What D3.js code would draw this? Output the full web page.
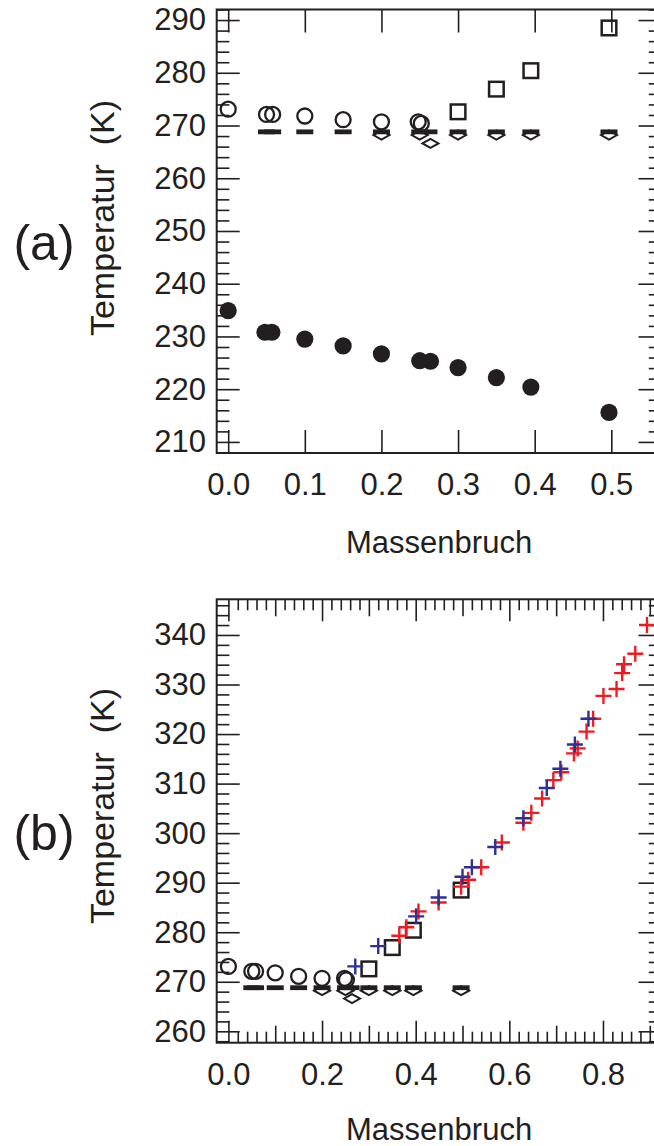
<!DOCTYPE html>
<html>
<head>
<meta charset="utf-8">
<script src="https://cdn.jsdelivr.net/npm/d3@7"></script>
<style>
  body { margin: 0; background: #fff; }
  svg { display: block; }
</style>
</head>
<body>
<svg id="chart"></svg>
<script>
// ---- data (mass fraction, temperature in K) ----
const openCircleX = [0.0, 0.05, 0.058, 0.1, 0.15, 0.2, 0.248, 0.252];
const openCircleT = [273.1, 272.1, 272.1, 271.8, 271.1, 270.7, 270.7, 270.4];

const squareX = [0.3, 0.35, 0.395, 0.497];
const squareT = [272.6, 276.9, 280.4, 288.5];

const dashX = [0.05, 0.058, 0.1, 0.15, 0.2, 0.25, 0.262, 0.3, 0.35, 0.395, 0.497];
const dashT = [268.8, 268.8, 268.8, 268.8, 268.8, 268.8, 268.8, 268.8, 268.8, 268.8, 268.8];

const diamondX = [0.2, 0.25, 0.264, 0.3, 0.35, 0.395, 0.497];
const diamondT = [268.2, 268.2, 266.6, 268.2, 268.2, 268.2, 268.2];

const filledX = [0.0, 0.048, 0.057, 0.1, 0.15, 0.2, 0.25, 0.264, 0.3, 0.35, 0.395, 0.497];
const filledT = [234.9, 230.8, 230.8, 229.5, 228.2, 226.7, 225.4, 225.3, 224.1, 222.2, 220.4, 215.6];

const blueX = [0.271, 0.320, 0.401, 0.449, 0.500, 0.520, 0.570, 0.630, 0.680, 0.709, 0.740, 0.769];
const blueT = [273.1, 277.2, 283.2, 287.0, 291.2, 293.1, 297.2, 303.0, 309.1, 313.0, 317.9, 323.1];

const redX = [0.365, 0.380, 0.406, 0.449, 0.497, 0.512, 0.540, 0.584, 0.630, 0.647, 0.670, 0.694,
              0.711, 0.738, 0.746, 0.765, 0.779, 0.801, 0.829, 0.841, 0.845, 0.869, 0.894];
const redT = [279.3, 281.0, 284.2, 286.0, 289.2, 290.6, 293.1, 298.1, 302.1, 304.1, 307.0, 310.7,
              312.3, 316.1, 317.1, 320.5, 323.1, 327.7, 329.1, 332.3, 334.1, 336.2, 342.0];

// tick labels
const topXTicks = [0.0, 0.1, 0.2, 0.3, 0.4, 0.5];
const topYTicks = [210, 220, 230, 240, 250, 260, 270, 280, 290];
const botXTicks = [0.0, 0.2, 0.4, 0.6, 0.8];
const botXMid = [0.1, 0.3, 0.5, 0.7, 0.9];
const botYTicks = [260, 270, 280, 290, 300, 310, 320, 330, 340];

const FONT = '"Liberation Sans", Arial, Helvetica, sans-serif';
const ink = '#231f20';
const red = '#ed1c24';
const blue = '#2e3192';

const svg = d3.select('#chart').attr('width', 654).attr('height', 1146);

function zip(xs, ys) { return xs.map((v, i) => [v, ys[i]]); }

function tickSet(g, axisGen, scale, tx, ty, values, len, pad, fmt) {
    let ax = axisGen(scale).tickValues(values).tickSize(-len).tickPadding(pad)
        .tickFormat(fmt ? fmt : () => '');
    g.append('g')
        .attr('transform', 'translate(' + tx + ',' + ty + ')')
        .call(ax)
        .call(s => s.select('.domain').remove())
        .call(s => s.selectAll('line').attr('stroke', ink).attr('stroke-width', 1.6))
        .call(s => s.selectAll('text')
            .attr('font-family', FONT).attr('font-size', 31).attr('fill', ink));
}

function drawPanel(p){
    const left = 216.7, right = 661.5;
    const x = d3.scaleLinear().domain(p.xDomain).range([left, right]);
    const y = d3.scaleLinear().domain(p.yDomain).range([p.bottom, p.top]);
    const g = svg.append('g');

    // x ticks (inward, top and bottom)
    p.xTickSets.forEach(t => {
        tickSet(g, d3.axisBottom, x, 0, p.bottom, t.values, t.len, 20, t.labels ? d3.format('.1f') : null);
        tickSet(g, d3.axisTop, x, 0, p.top, t.values, t.len, 0, null);
    });
    // y ticks (inward, left and right)
    let minorY = d3.range(p.yDomain[0], p.yDomain[1], 2).map(v => Math.ceil(v / 2) * 2)
        .filter(v => v % 10 !== 0);
    tickSet(g, d3.axisLeft, y, left, 0, p.yTicks, 23, 10.7, d3.format('d'));
    tickSet(g, d3.axisLeft, y, left, 0, minorY, 12.7, 0, null);
    tickSet(g, d3.axisRight, y, right, 0, p.yTicks, 23, 0, null);
    tickSet(g, d3.axisRight, y, right, 0, minorY, 12.7, 0, null);

    // frame
    g.append('rect')
        .attr('x', left).attr('y', p.top)
        .attr('width', right - left).attr('height', p.bottom - p.top)
        .attr('fill', 'none').attr('stroke', ink).attr('stroke-width', 2);

    // diamonds (under the dashes)
    g.append('g').selectAll('path').data(zip(diamondX, diamondT)).enter()
        .append('path')
        .attr('d', d => {
            let cx = x(d[0]), cy = y(d[1]);
            return 'M' + (cx - 8) + ',' + cy + 'L' + cx + ',' + (cy - 4.5) + 'L' + (cx + 8) + ',' + cy +
                'L' + cx + ',' + (cy + 4.5) + 'Z';
        })
        .attr('fill', '#fff').attr('stroke', ink).attr('stroke-width', 2);

    // dashes
    g.append('g').selectAll('rect').data(zip(dashX, dashT)).enter()
        .append('rect')
        .attr('x', d => x(d[0]) - 8.5).attr('y', d => y(d[1]) - 2.4)
        .attr('width', 17).attr('height', 4.8)
        .attr('fill', ink);

    // open circles
    g.append('g').selectAll('circle').data(zip(openCircleX, openCircleT)).enter()
        .append('circle')
        .attr('cx', d => x(d[0])).attr('cy', d => y(d[1])).attr('r', 7.5)
        .attr('fill', 'none').attr('stroke', ink).attr('stroke-width', 2.3);

    // squares
    g.append('g').selectAll('rect').data(zip(squareX, squareT)).enter()
        .append('rect')
        .attr('x', d => x(d[0]) - 7.3).attr('y', d => y(d[1]) - 7.3)
        .attr('width', 14.6).attr('height', 14.6)
        .attr('fill', 'none').attr('stroke', ink).attr('stroke-width', 2.5);

    // filled circles
    g.append('g').selectAll('circle').data(zip(filledX, filledT).filter(d => d[1] > p.yDomain[0] && d[1] < p.yDomain[1]))
        .enter()
        .append('circle')
        .attr('cx', d => x(d[0])).attr('cy', d => y(d[1])).attr('r', 8.6)
        .attr('fill', ink);

    // crosses
    if(p.crosses){
        [[redX, redT, red], [blueX, blueT, blue]].forEach(s => {
            g.append('g').selectAll('path').data(zip(s[0], s[1])).enter()
                .append('path')
                .attr('d', d => {
                    let cx = x(d[0]), cy = y(d[1]);
                    return 'M' + (cx - 8) + ',' + cy + 'H' + (cx + 8) + 'M' + cx + ',' + (cy - 8) + 'V' + (cy + 8);
                })
                .attr('fill', 'none').attr('stroke', s[2]).attr('stroke-width', 2.4);
        });
    }

    // axis titles
    g.append('text')
        .attr('x', (left + right) / 2).attr('y', p.bottom + p.titleGap)
        .attr('text-anchor', 'middle')
        .attr('font-family', FONT).attr('font-size', 31).attr('fill', ink)
        .text('Massenbruch');

    g.append('text')
        .attr('transform', 'translate(114,' + p.yTitle + ') rotate(-90)')
        .attr('text-anchor', 'middle')
        .style('white-space', 'pre')
        .attr('font-family', FONT).attr('font-size', 34).attr('fill', ink)
        .text('Temperatur  (K)');

    g.append('text')
        .attr('x', 44).attr('y', p.tagY)
        .attr('text-anchor', 'middle')
        .attr('font-family', FONT).attr('font-size', 50).attr('fill', ink)
        .text(p.tag);
}

drawPanel({
    xDomain: [-0.015, 0.5655],
    yDomain: [207.9, 292],
    top: 9.5, bottom: 453,
    xTickSets: [{values: topXTicks, len: 23, labels: true}],
    yTicks: topYTicks,
    yTitle: 218,
    titleGap: 100,
    tag: '(a)', tagY: 260,
    crosses: false
});

let botMinorX = d3.range(0, 47).map(i => Math.round(i * 2) / 100).filter(v => Math.round(v * 100) % 10 !== 0);

drawPanel({
    xDomain: [-0.025, 0.925],
    yDomain: [257.7, 347.2],
    top: 599.3, bottom: 1042.7,
    xTickSets: [
        {values: botXTicks, len: 22, labels: true},
        {values: botXMid, len: 17, labels: false},
        {values: botMinorX, len: 11, labels: false}
    ],
    yTicks: botYTicks,
    yTitle: 806,
    titleGap: 97,
    tag: '(b)', tagY: 850,
    crosses: true
});
</script>
</body>
</html>
